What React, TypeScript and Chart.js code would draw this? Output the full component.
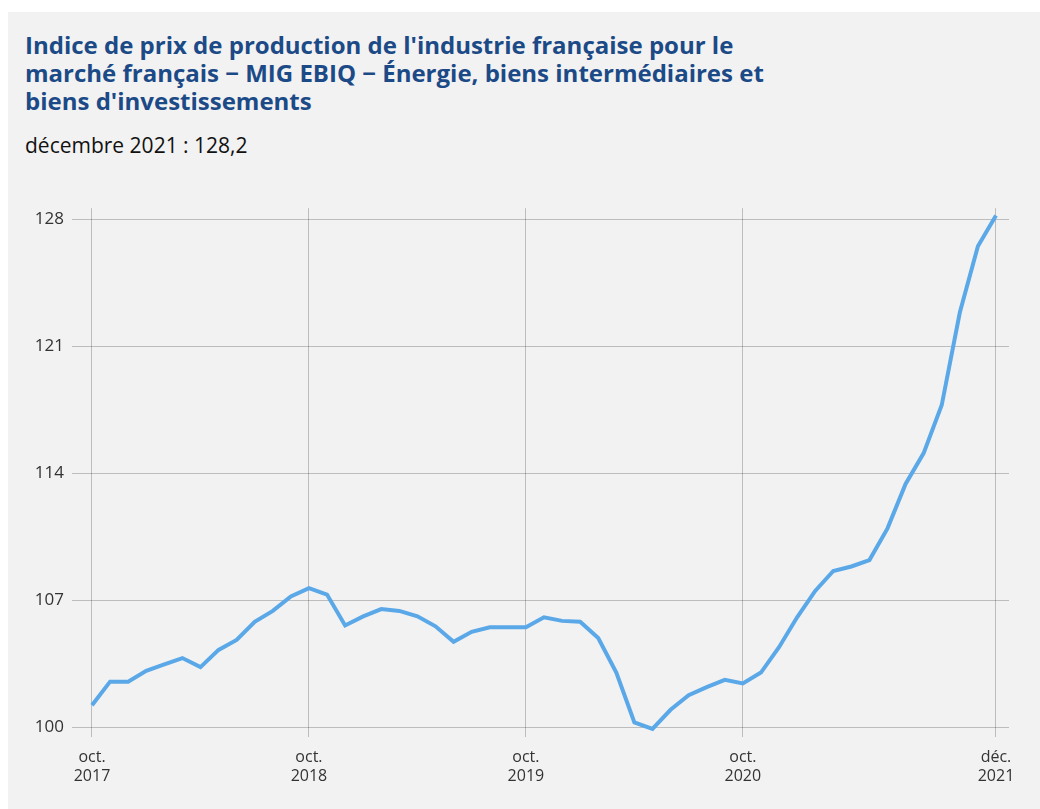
import React, { useEffect, useRef } from "react";
import { Chart, registerables } from "chart.js";

Chart.register(...registerables);

const months: string[] = [
  "2017-10", "2017-11", "2017-12",
  "2018-01", "2018-02", "2018-03", "2018-04", "2018-05", "2018-06", "2018-07", "2018-08", "2018-09", "2018-10", "2018-11", "2018-12",
  "2019-01", "2019-02", "2019-03", "2019-04", "2019-05", "2019-06", "2019-07", "2019-08", "2019-09", "2019-10", "2019-11", "2019-12",
  "2020-01", "2020-02", "2020-03", "2020-04", "2020-05", "2020-06", "2020-07", "2020-08", "2020-09", "2020-10", "2020-11", "2020-12",
  "2021-01", "2021-02", "2021-03", "2021-04", "2021-05", "2021-06", "2021-07", "2021-08", "2021-09", "2021-10", "2021-11", "2021-12",
];

const values: number[] = [
  101.2, 102.5, 102.5,
  103.1, 103.45, 103.8, 103.3, 104.25, 104.8, 105.8, 106.4, 107.2, 107.65, 107.3, 105.6,
  106.1, 106.5, 106.4, 106.1, 105.55, 104.7, 105.25, 105.5, 105.5, 105.5, 106.05, 105.85,
  105.8, 104.9, 103.0, 100.25, 99.9, 100.95, 101.75, 102.2, 102.6, 102.4, 103.0, 104.4,
  106.05, 107.5, 108.6, 108.85, 109.2, 110.95, 113.4, 115.1, 117.75, 122.85, 126.5, 128.2,
];

const xTickMonths: string[] = ["2017-10", "2018-10", "2019-10", "2020-10", "2021-12"];
const xTickLabels: string[][] = [
  ["oct.", "2017"],
  ["oct.", "2018"],
  ["oct.", "2019"],
  ["oct.", "2020"],
  ["déc.", "2021"],
];
const yTicks: number[] = [100, 107, 114, 121, 128];

const TITLE_LINES: string[] = [
  "Indice de prix de production de l'industrie française pour le",
  "marché français − MIG EBIQ − Énergie, biens intermédiaires et",
  "biens d'investissements",
];
const SUBTITLE = "décembre 2021 : 128,2";

export default function App() {
  const canvasRef = useRef<HTMLCanvasElement | null>(null);

  useEffect(() => {
    if (!canvasRef.current) return;
    const tickPos = xTickMonths.map((m) => months.indexOf(m));
    const chart = new Chart(canvasRef.current, {
      type: "line",
      data: {
        datasets: [
          {
            data: values.map((v, i) => ({ x: i, y: v })),
            borderColor: "#5aa8e8",
            borderWidth: 4,
            pointRadius: 0,
            pointHoverRadius: 0,
            tension: 0,
            fill: false,
            clip: false as any,
            borderJoinStyle: "miter",
          },
        ],
      },
      options: {
        animation: false,
        responsive: false,
        maintainAspectRatio: false,
        layout: { padding: { top: 15, right: 31, bottom: 22, left: 0 } },
        plugins: { legend: { display: false }, tooltip: { enabled: false } },
        scales: {
          x: {
            type: "linear",
            min: -1.106,
            max: 50.72,
            afterBuildTicks: (scale: any) => {
              scale.ticks = tickPos.map((v) => ({ value: v }));
            },
            afterFit: (scale: any) => {
              scale.height = 60;
            },
            ticks: {
              autoSkip: false,
              maxRotation: 0,
              padding: 11,
              color: "#333333",
              font: { family: "'Open Sans'", size: 16 },
              callback: (value: any) => {
                const idx = tickPos.indexOf(Number(value));
                return idx >= 0 ? xTickLabels[idx] : "";
              },
            },
            grid: {
              color: "rgba(0,0,0,0.22)",
              lineWidth: 1,
              drawTicks: true,
              tickLength: 10,
            },
            border: { display: false },
          },
          y: {
            type: "linear",
            min: 100,
            max: 128.6,
            afterBuildTicks: (scale: any) => {
              scale.ticks = yTicks.map((v) => ({ value: v }));
            },
            afterFit: (scale: any) => {
              scale.width = 64;
            },
            ticks: {
              padding: 8,
              color: "#333333",
              font: { family: "'Open Sans'", size: 17 },
              callback: (value: any) => String(value),
            },
            grid: {
              color: "rgba(0,0,0,0.22)",
              lineWidth: 1,
              drawTicks: false,
            },
            border: { display: false },
          },
        },
      },
    });
    return () => chart.destroy();
  }, []);

  return (
    <div
      style={{
        position: "absolute",
        left: 8,
        top: 12,
        width: 1032,
        height: 797,
        background: "#f2f2f2",
        fontFamily: "'Open Sans', sans-serif",
        overflow: "hidden",
      }}
    >
      <div
        style={{
          position: "absolute",
          left: 17,
          top: 19,
          whiteSpace: "nowrap",
          fontSize: 24,
          lineHeight: "28px",
          fontWeight: 700,
          color: "#1b4a87",
        }}
      >
        {TITLE_LINES.map((l, i) => (
          <div key={i}>{l}</div>
        ))}
      </div>
      <div
        style={{
          position: "absolute",
          left: 17,
          top: 120,
          fontSize: 21,
          lineHeight: "26px",
          color: "#111111",
        }}
      >
        {SUBTITLE}
      </div>
      <canvas
        ref={canvasRef}
        width={1032}
        height={619}
        style={{ position: "absolute", left: 0, top: 178, width: 1032, height: 619 }}
      />
    </div>
  );
}
